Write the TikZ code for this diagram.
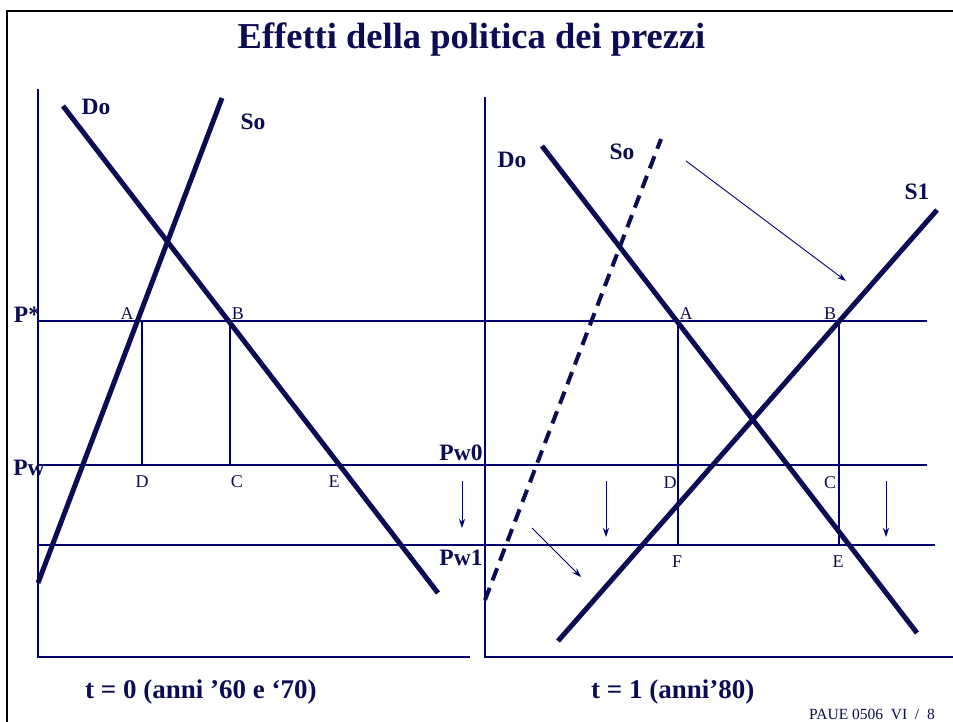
\documentclass[tikz,border=0pt]{standalone}
\usepackage{fontspec}
\setmainfont{Liberation Serif}
\usetikzlibrary{arrows.meta}
\definecolor{navyline}{RGB}{12,12,84}
\definecolor{navythin}{RGB}{0,0,110}
\definecolor{navytext}{RGB}{12,12,84}
\begin{document}
\begin{tikzpicture}[x=1pt,y=-1pt,
  supplydemand/.style={line width=5pt, draw=navyline},
  dashcurve/.style={line width=4pt, draw=navyline, dash pattern=on 13pt off 8pt},
  guide/.style={line width=1.2pt, draw=navythin},
  shiftarrow/.style={line width=0.9pt, draw=navythin, -{Stealth[length=9pt,width=6pt]}},
  curvelabel/.style={font=\bfseries\fontsize{23.5}{25}\selectfont, text=navytext, inner sep=0pt},
  pointlabel/.style={font=\fontsize{18}{20}\selectfont, text=navytext, inner sep=0pt},
  caption/.style={font=\bfseries\fontsize{27}{29}\selectfont, text=navytext, inner sep=0pt, anchor=base west},
  titlestyle/.style={font=\bfseries\fontsize{36.5}{39}\selectfont, text=navytext, inner sep=0pt, anchor=base},
  footer/.style={font=\fontsize{15.5}{18}\selectfont, text=navytext, inner sep=0pt, anchor=base east}
]
\useasboundingbox (0,0) rectangle (953,722);
\fill[white] (0,0) rectangle (953,722);
% slide frame
\draw[line width=2pt, black] (7,722) -- (7,11) -- (953,11);

% title
\node[titlestyle] (title) at (471.5,49) {Effetti della politica dei prezzi};

% ---------- coordinates ----------
% left panel
\coordinate (Ltop) at (38,89);
\coordinate (Lorig) at (38,657);
\coordinate (Lxend) at (470,657);
\coordinate (PstarL) at (38,321);
\coordinate (PstarR) at (927,321);
\coordinate (PwL) at (38,465);
\coordinate (PwR) at (927,465);
\coordinate (PwoneL) at (38,545);
\coordinate (PwoneR) at (935,545);
\coordinate (LA) at (142,321);
\coordinate (LD) at (142,465);
\coordinate (LB) at (230,321);
\coordinate (LC) at (230,465);
\coordinate (LSbot) at (38,583);
\coordinate (LStop) at (222,98);
\coordinate (LDtop) at (63,106);
\coordinate (LDbot) at (438,593);
\coordinate (LarrS) at (462,481);
\coordinate (LarrE) at (462,528);
% right panel
\coordinate (Rtop) at (485,97);
\coordinate (Rorig) at (485,657);
\coordinate (Rxend) at (953,657);
\coordinate (RSbot) at (485,600);
\coordinate (RStop) at (661,139);
\coordinate (RDtop) at (542,146);
\coordinate (RDbot) at (917,633);
\coordinate (SonebBot) at (558,641);
\coordinate (SoneTop) at (937,210);
\coordinate (RA) at (678,321);
\coordinate (RF) at (678,545);
\coordinate (RB) at (839,321);
\coordinate (RE) at (839,545);
\coordinate (shiftS) at (686,161);
\coordinate (shiftE) at (846,281);
\coordinate (smallS) at (532,528);
\coordinate (smallE) at (581,577);
\coordinate (d1S) at (606,481);
\coordinate (d1E) at (606,537);
\coordinate (d2S) at (886,481);
\coordinate (d2E) at (886,537);

% ---------- thin guides ----------
\draw[guide] (Ltop) -- (Lorig) -- (Lxend);
\draw[guide] (Rtop) -- (Rorig) -- (Rxend);
\draw[guide] (PstarL) -- (PstarR);
\draw[guide] (PwL) -- (PwR);
\draw[guide] (PwoneL) -- (PwoneR);
\draw[guide] (LA) -- (LD);
\draw[guide] (LB) -- (LC);
\draw[guide] (RA) -- (RF);
\draw[guide] (RB) -- (RE);

% ---------- curves ----------
\draw[supplydemand] (LSbot) -- (LStop);
\draw[supplydemand] (LDtop) -- (LDbot);
\draw[dashcurve] (RSbot) -- (RStop);
\draw[supplydemand] (RDtop) -- (RDbot);
\draw[supplydemand] (SonebBot) -- (SoneTop);

% ---------- arrows ----------
\draw[shiftarrow] (LarrS) -- (LarrE);
\draw[shiftarrow] (shiftS) -- (shiftE);
\draw[shiftarrow] (smallS) -- (smallE);
\draw[shiftarrow] (d1S) -- (d1E);
\draw[shiftarrow] (d2S) -- (d2E);

% ---------- labels ----------
\node[curvelabel] (lDo) at (96,107) {Do};
\node[curvelabel] (lSo) at (253,122) {So};
\node[curvelabel] (rDo) at (512,160) {Do};
\node[curvelabel] (rSo) at (622,152) {So};
\node[curvelabel] (rSone) at (917,192) {S1};
\node[curvelabel] (pstar) at (27,315) {P*};
\node[curvelabel] (pw) at (29,468) {Pw};
\node[curvelabel] (pwzero) at (461,453) {Pw0};
\node[curvelabel] (pwone) at (461,558) {Pw1};

\node[pointlabel] (tA) at (127,314) {A};
\node[pointlabel] (tB) at (238,314) {B};
\node[pointlabel] (tD) at (142,482) {D};
\node[pointlabel] (tC) at (237,482) {C};
\node[pointlabel] (tE) at (334,482) {E};
\node[pointlabel] (uA) at (686,314) {A};
\node[pointlabel] (uB) at (830,314) {B};
\node[pointlabel] (uD) at (670,483) {D};
\node[pointlabel] (uC) at (830,483) {C};
\node[pointlabel] (uF) at (677,562) {F};
\node[pointlabel] (uE) at (838,562) {E};

\node[caption] (capL) at (85,698) {t = 0 (anni ’60 e ‘70)};
\node[caption] (capR) at (591,698) {t = 1 (anni’80)};
\node[footer] (foot) at (935,719) {PAUE 0506\ \ VI\ \ /\ \ 8};
\end{tikzpicture}
\end{document}
